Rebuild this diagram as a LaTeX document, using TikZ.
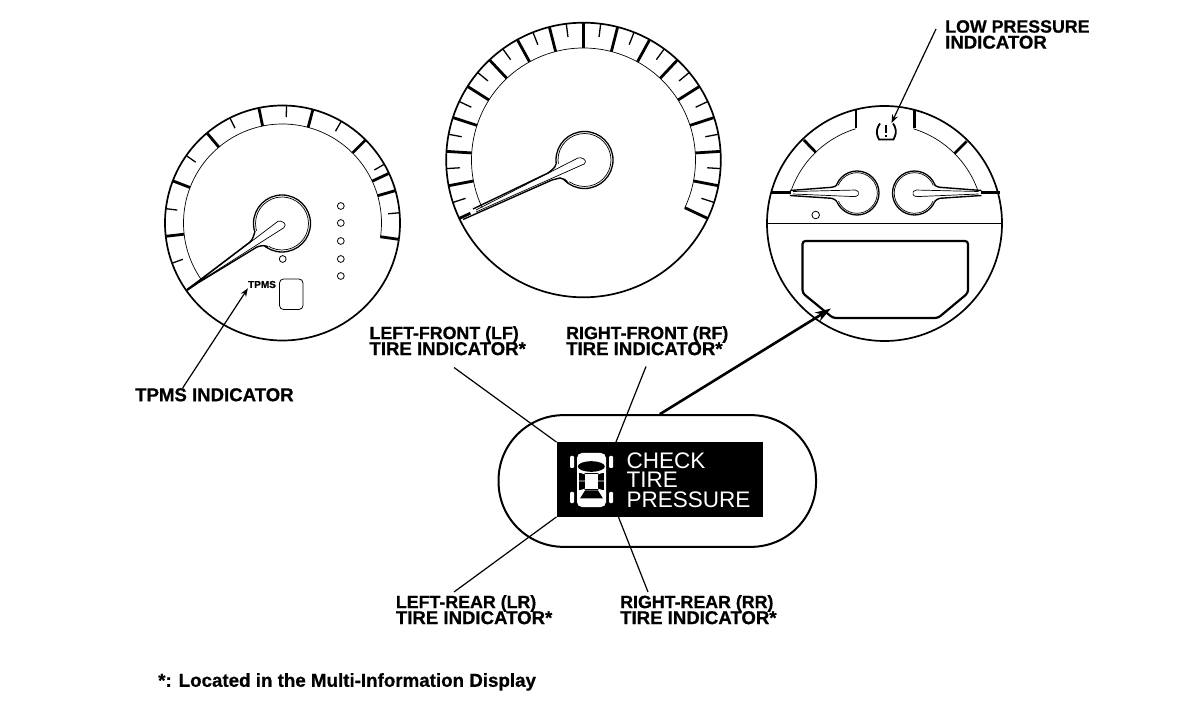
\documentclass[tikz,border=0pt]{standalone}
\usepackage{fontspec}
\setmainfont[BoldFeatures={FakeBold=0.7}]{Liberation Sans}
\usetikzlibrary{arrows.meta,positioning,calc}
\newcommand{\firstline}[1]{{\fontsize{17.8}{16}\selectfont #1}}
\newcommand{\tightlines}{\lineskiplimit-20pt\relax}

\begin{document}
\begin{tikzpicture}[
  x=1pt,y=-1pt,
  >=Stealth,
  lbl/.style={font=\fontsize{18.6}{16}\selectfont\bfseries\tightlines,anchor=north west,align=left,inner sep=0pt},
  msg/.style={font=\fontsize{22.5}{19.5}\selectfont\tightlines,text=white,anchor=north west,align=left,inner sep=0pt},
  leader/.style={line width=1.2pt},
  rim/.style={line width=1.7pt},
  track/.style={line width=0.7pt},
  bigtick/.style={line width=2.8pt},
  smalltick/.style={line width=1.3pt},
  hubout/.style={line width=1.3pt},
  hubin/.style={line width=0.7pt},
  ndl/.style={line width=1.4pt},
  ndlin/.style={line width=0.7pt,rounded corners=1.5pt},
  lamp/.style={line width=0.8pt},
]
\useasboundingbox (0,0) rectangle (1184,708);

% left gauge
\begin{scope}[shift={(282.5,223)},y=1pt]
\draw[rim] (0,0) circle[radius=117.5];
\draw[track] (215:99) arc[start angle=215,end angle=-8.5,radius=99];
\foreach \a in {186.5,159,130,101.6,75,45,25,16,-8}
  \draw[bigtick] (\a:99) -- (\a:117);
\foreach \a in {200,173,145,116.6,88,60,30,5}
  \draw[smalltick] (\a:106) -- (\a:117);
\end{scope}
\draw[hubout] (282,223.5) circle[radius=28.5];
\draw[hubin] (282,223.5) circle[radius=26.5];
\fill[white] (188,289) -- (250,242) .. controls (253,239) and (254,235) .. (255,231) -- (285,227)
  -- (268,247) .. controls (266,245.5) and (262,245) .. (257,247) -- cycle;
\draw[ndl] (188,289) -- (250,242) .. controls (253,239) and (254,235) .. (255,231);
\draw[ndl] (188,289) -- (257,247) .. controls (262,245) and (266,245.5) .. (268,247);
\draw[ndlin] (194,285) -- (279,220.5) -- (285,223) -- (285,227) -- (194,285);
\draw[line width=2.2pt] (187,290) -- (197,283);
\foreach \py in {206,223,241,259,276}
  \draw[lamp] (340.8,\py) circle[radius=3.4];
\draw[lamp] (282.7,259) circle[radius=3.4];
\draw[lamp,rounded corners=4pt] (279.5,279) rectangle (303,309.5);
\node[font=\fontsize{10}{10}\selectfont\bfseries,inner sep=0pt] (tpmstxt) at (262,284.5) {TPMS};

% centre gauge
\begin{scope}[shift={(583.5,160)},y=1pt]
\draw[rim] (0,0) circle[radius=137.3];
\draw[track] (205.2:112) arc[start angle=205.2,end angle=-25.2,radius=112];
\foreach \a in {90,75.6,61.2,46.8,32.4,18,3.6,-10.8,-25.2,104.4,118.8,133.2,147.6,162,176.4,190.8}
  \draw[bigtick] (\a:112) -- (\a:137);
\draw[bigtick] (205.2:125) -- (205.2:137);
\foreach \a in {82.8,68.4,54,39.6,25.2,10.8,-3.6,-18,97.2,111.6,126,140.4,154.8,169.2,183.6,198}
  \draw[smalltick] (\a:124) -- (\a:137);
\end{scope}
\draw[hubout] (584.5,160) circle[radius=28.5];
\draw[hubin] (584.5,160) circle[radius=26.5];
\fill[white] (463,219) -- (548,173) .. controls (552,170) and (555,168) .. (556,164) -- (585.7,163)
  -- (568,183) .. controls (566,180) and (563,178) .. (560,178) -- (552,180) -- cycle;
\draw[ndl] (473,209) -- (548,173) .. controls (552,170) and (555,168) .. (556,164);
\draw[ndl] (463,219.5) -- (552,180) -- (560,178) .. controls (563,178) and (566,180) .. (568,183);
\draw[ndlin] (476,210) -- (579.3,157.3) -- (585,159.3) -- (585.7,163.3) -- (476,212);

% right gauge
\begin{scope}[shift={(884.5,223.5)},y=1pt]
\draw[rim] (0,0) circle[radius=117.5];
\draw[track] (163:99) arc[start angle=163,end angle=107,radius=99];
\draw[track] (73:99) arc[start angle=73,end angle=18,radius=99];
\draw[bigtick] (134:99) -- (134:116);
\draw[bigtick] (45:99) -- (45:116);
\end{scope}
\draw[bigtick] (856,110) -- (856,128);
\draw[bigtick] (914.5,110) -- (914.5,128);
\draw[track] (767,223) -- (1002,223);
\foreach \sx/\ox in {1/0,-1/1771.5}
{
\begin{scope}[shift={(\ox,0)},xscale=\sx]
\draw[hubout] (857,193) circle[radius=22];
\draw[hubin] (857,193) circle[radius=20.3];
\fill[white] (790,190) -- (831.7,187.3) .. controls (834,187) and (836,186) .. (837,185) -- (859,193)
  -- (837,201.7) .. controls (836,200) and (834,199) .. (831.7,198.3) -- (790,196) -- cycle;
\draw[bigtick] (771.5,192.7) -- (791,192.7);
\draw[ndl] (790,190.5) -- (831.7,187.3) .. controls (834,187) and (836,186) .. (837,185);
\draw[ndl] (790,195.5) -- (831.7,198.3) .. controls (834,199) and (836,200) .. (837,201.7);
\draw[ndlin] (793,191.5) -- (856.7,190) -- (859.3,193.3) -- (856.7,196.7) -- (793,194);
\end{scope}
}
\draw[lamp] (815.7,215) circle[radius=3.8];
\draw[line width=2.2pt,rounded corners=3pt] (802.5,241) -- (968,241) -- (968,293) -- (938,318) -- (833,318) -- (802.5,293) -- cycle;
\draw[line width=1.8pt] (880,123.5) .. controls (877,127) and (876,133) .. (877.5,136) -- (879,139.5) -- (893.5,139.5) -- (895,136) .. controls (896.5,133) and (896,127) .. (893,123.5);
\draw[line width=1.8pt] (886.3,125) -- (886.3,133.5);
\draw[line width=1.8pt] (886.3,135.5) -- (886.3,137.5);
\coordinate (lowsym) at (891.5,123);

% multi-information display
\node[draw,line width=2pt,rounded corners=65pt,minimum width=317.5pt,minimum height=131.7pt,inner sep=0pt] (pill) at (657.3,481) {};
\node[fill=black,minimum width=206pt,minimum height=74.4pt,inner sep=0pt] (disp) at (659.7,479.5) {};
\fill[white,rounded corners=5pt] (577,453) rectangle (606,507);
\fill[black] (591.3,466.5) ellipse[x radius=13.5,y radius=5.3];
\fill[black] (578.5,473) rectangle (604,490);
\fill[white] (585,474) rectangle (598,489);
\draw[white,line width=0.7pt] (578.5,481) -- (585,481) (598,481) -- (604,481) (578.5,472) -- (585,474) (604,472) -- (598,474) (578.5,491) -- (585,489) (604,491) -- (598,489);
\fill[black] (585,490.5) -- (598,490.5) -- (603,498.5) -- (580,498.5) -- cycle;
\fill[white,rounded corners=1pt] (570,456) rectangle (574,468) (609,456) rectangle (613,468) (570,492) rectangle (574,503) (609,492) rectangle (613,503);
\node[msg] (msgtxt) at (626.5,452.5) {CHECK\\TIRE\\PRESSURE};

% labels
\node[lbl] (lowlbl) at (945,20) {\firstline{LOW PRESSURE}\\INDICATOR};
\node[lbl] (tpmslbl) at (135,388) {TPMS INDICATOR};
\node[lbl] (lflbl) at (369.3,326) {\firstline{LEFT-FRONT (LF)}\\TIRE INDICATOR*};
\node[lbl] (rflbl) at (566,326) {\firstline{RIGHT-FRONT (RF)}\\TIRE INDICATOR*};
\node[lbl] (lrlbl) at (395.7,595) {\firstline{LEFT-REAR (LR)}\\TIRE INDICATOR*};
\node[lbl] (rrlbl) at (620,595) {\firstline{RIGHT-REAR (RR)}\\TIRE INDICATOR*};
\node[lbl,font=\fontsize{18.75}{18}\selectfont\bfseries] (notelbl) at (158,673) {*: Located in the Multi-Information Display};

% leaders
\coordinate (lowend) at (936,29);
\coordinate (lfend) at (454,367.5);
\coordinate (rfend) at (646,366.5);
\coordinate (lrend) at (454,592);
\coordinate (rrend) at (648,592);
\coordinate (dspl) at (831,308.5);
\draw[leader,->] (lowend) -- (lowsym);
\draw[leader,->] ($(tpmslbl.north west)!0.3!(tpmslbl.north east)$) -- (tpmstxt.south west);
\draw[leader] (lfend) -- (disp.north west);
\draw[leader] (rfend) -- ($(disp.north west)!0.288!(disp.north east)$);
\draw[leader] (lrend) -- (disp.south west);
\draw[leader] (rrend) -- ($(disp.south west)!0.3!(disp.south east)$);
\draw[line width=2.6pt,-{Stealth[length=16pt,width=10pt]}] ($(pill.north west)!0.508!(pill.north east)$) -- (dspl);
\end{tikzpicture}
\end{document}
